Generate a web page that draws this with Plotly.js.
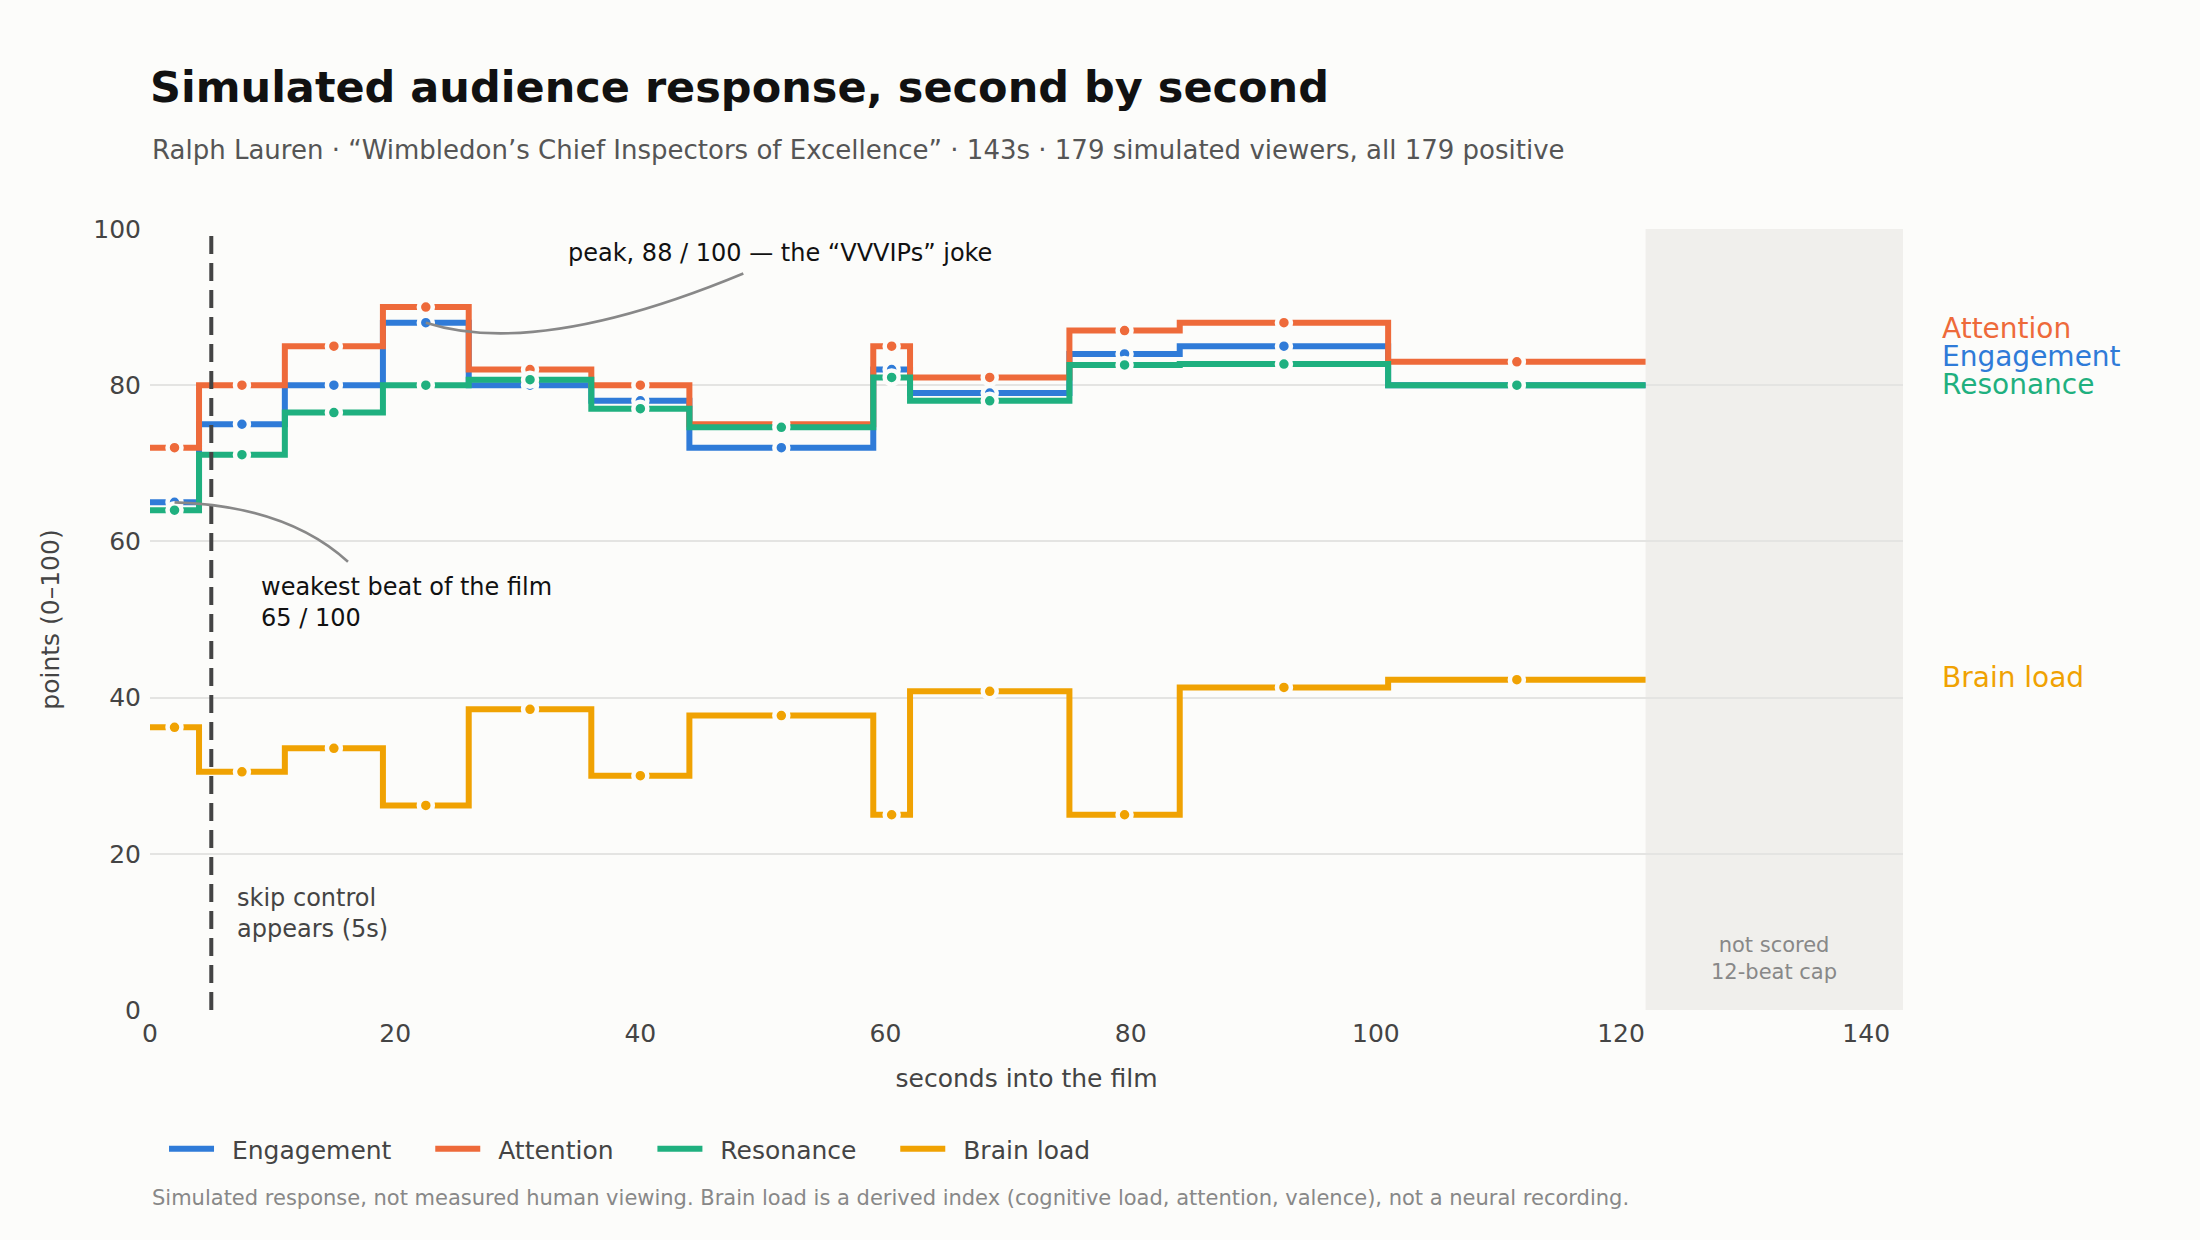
<!DOCTYPE html>
<html>
<head>
<meta charset="utf-8">
<script src="https://cdn.plot.ly/plotly-3.0.1.min.js"></script>
<style>
  html, body { margin: 0; padding: 0; background: #fcfcfa; }
  #graph { width: 2200px; height: 1240px; }
</style>
</head>
<body>
<div id="graph"></div>
<script>
// beat boundaries (seconds) - each beat runs from start[i] to start[i+1]
const beatStart = [0, 4, 11, 19, 26, 36, 44, 59, 62, 75, 84, 101];
const scoredEnd = 122;
const filmLength = 143;
const skipAt = 5;

// per-beat scores
const engagement = [65, 75, 80, 88, 80, 78, 72, 82, 79, 84, 85, 80];
const attention  = [72, 80, 85, 90, 82, 80, 75, 85, 81, 87, 88, 83];
const resonance  = [64, 71.1, 76.5, 80, 80.7, 77, 74.6, 81, 78, 82.6, 82.7, 80];
const brainLoad  = [36.2, 30.5, 33.5, 26.2, 38.5, 30, 37.7, 25, 40.8, 25, 41.3, 42.3];

const seriesNames  = ['Engagement', 'Attention', 'Resonance', 'Brain load'];
const seriesColors = ['#2f7bd8', '#ee6a3a', '#1fb07f', '#f0a202'];
const seriesValues = [engagement, attention, resonance, brainLoad];

const xTicks = [0, 20, 40, 60, 80, 100, 120, 140];
const yTicks = [0, 20, 40, 60, 80, 100];

const FONT = 'DejaVu Sans, sans-serif';
const BG = '#fcfcfa';

const beatEnd = beatStart.slice(1).concat([scoredEnd]);
const beatMid = beatStart.map((s, i) => (s + beatEnd[i]) / 2);

// legend entries get a bit of breathing room (plotly's gaps are tight)
const NBSP = '&nbsp;', THIN = '\u2009';
const legendName = n => NBSP + THIN + n + NBSP.repeat(3) + THIN + THIN;

const traces = [];
seriesValues.forEach((vals, i) => {
    // step line
    traces.push({
        x: beatStart.concat([scoredEnd]),
        y: vals.concat([vals[vals.length - 1]]),
        type: 'scatter',
        mode: 'lines',
        line: {shape: 'hv', color: seriesColors[i], width: 6},
        name: legendName(seriesNames[i]),
        legendgroup: seriesNames[i],
        hoverinfo: 'skip'
    });
    // one dot per beat, in the middle of it
    traces.push({
        x: beatMid,
        y: vals,
        type: 'scatter',
        mode: 'markers',
        marker: {size: 14, color: seriesColors[i], line: {color: BG, width: 4.5}},
        showlegend: false,
        legendgroup: seriesNames[i],
        hoverinfo: 'skip'
    });
});

// curved call-out connectors (quadratic, in data coords)
function curve(p0, c, p1) {
    return `M ${p0[0]},${p0[1]} Q ${c[0]},${c[1]} ${p1[0]},${p1[1]}`;
}
const peakIdx = engagement.indexOf(Math.max(...engagement));
const lowIdx = engagement.indexOf(Math.min(...engagement));

// right-hand series labels, nudged apart so they don't collide
const endLabelY = [83.7, 87.3, 80.1, 42.6];

const annotations = [
    {
        xref: 'paper', yref: 'paper', x: 0, y: 1.101, xanchor: 'left', yanchor: 'middle',
        text: 'Ralph Lauren · “Wimbledon’s Chief Inspectors of Excellence” · 143s · 179 simulated viewers, all 179 positive',
        showarrow: false, font: {family: FONT, size: 26, color: '#555'}
    },
    {
        xref: 'x', yref: 'y', x: 33.9, y: 96.9, xanchor: 'left', yanchor: 'middle',
        text: 'peak, ' + engagement[peakIdx] + ' / 100 — the “VVVIPs” joke',
        showarrow: false, font: {family: FONT, size: 24, color: '#111'}
    },
    {
        xref: 'x', yref: 'y', x: 8.9, y: 52.2, xanchor: 'left', yanchor: 'middle', align: 'left',
        text: 'weakest beat of the film<br>' + engagement[lowIdx] + ' / 100',
        showarrow: false, font: {family: FONT, size: 24, color: '#111'}
    },
    {
        xref: 'x', yref: 'y', x: 6.9, y: 12.3, xanchor: 'left', yanchor: 'middle', align: 'left',
        text: 'skip control<br>appears (' + skipAt + 's)',
        showarrow: false, font: {family: FONT, size: 24, color: '#444'}
    },
    {
        xref: 'x', yref: 'y', x: (scoredEnd + filmLength) / 2, y: 6.6, xanchor: 'center', yanchor: 'middle', align: 'center',
        text: 'not scored<br>12-beat cap',
        showarrow: false, font: {family: FONT, size: 21, color: '#888'}
    },
    {
        xref: 'paper', yref: 'paper', x: 0, y: -0.241, xanchor: 'left', yanchor: 'middle',
        text: 'Simulated response, not measured human viewing. Brain load is a derived index (cognitive load, attention, valence), not a neural recording.',
        showarrow: false, font: {family: FONT, size: 21, color: '#888'}
    }
];
seriesNames.forEach((n, i) => {
    annotations.push({
        xref: 'paper', yref: 'y', x: 1.021, y: endLabelY[i], xanchor: 'left', yanchor: 'middle',
        text: n, showarrow: false, font: {family: FONT, size: 28, color: seriesColors[i]}
    });
});

const shapes = [
    {
        type: 'rect', layer: 'below', xref: 'x', yref: 'y',
        x0: scoredEnd, x1: filmLength, y0: 0, y1: 100,
        fillcolor: '#f0efec', line: {width: 0}
    },
    {
        type: 'line', xref: 'x', yref: 'y', x0: skipAt, x1: skipAt, y0: 0, y1: 100,
        line: {color: '#444', width: 4, dash: '18px,9px'}
    },
    {
        type: 'path', xref: 'x', yref: 'y',
        path: curve([beatMid[peakIdx], engagement[peakIdx]], [31.65, 83.4], [48.4, 94.3]),
        line: {color: '#888', width: 2.6}
    },
    {
        type: 'path', xref: 'x', yref: 'y',
        path: curve([beatMid[lowIdx], engagement[lowIdx]], [11.1, 64.6], [16.15, 57.4]),
        line: {color: '#888', width: 2.6}
    }
];

const layout = {
    width: 2200,
    height: 1240,
    paper_bgcolor: BG,
    plot_bgcolor: BG,
    margin: {l: 150, r: 297, t: 229, b: 230, pad: 0},
    font: {family: FONT, color: '#444'},
    title: {
        text: '<b>Simulated audience response, second by second</b>',
        xref: 'paper', x: 0, xanchor: 'left',
        yref: 'container', y: 0.93, yanchor: 'middle',
        font: {family: FONT, size: 43, color: '#111'}
    },
    xaxis: {
        range: [0, filmLength],
        tickvals: xTicks,
        showgrid: false,
        zeroline: false,
        showline: false,
        ticks: '',
        ticklabelstandoff: 6,
        tickfont: {family: FONT, size: 25, color: '#444'},
        title: {text: 'seconds into the film', standoff: 22, font: {family: FONT, size: 25, color: '#444'}},
        fixedrange: true
    },
    yaxis: {
        range: [0, 100],
        tickvals: yTicks,
        showgrid: true,
        gridcolor: '#e4e4e2',
        gridwidth: 2,
        zeroline: false,
        showline: false,
        ticks: '',
        ticklabelstandoff: 8,
        tickfont: {family: FONT, size: 25, color: '#444'},
        title: {text: 'points (0–100)', standoff: 26, font: {family: FONT, size: 25, color: '#444'}},
        fixedrange: true
    },
    legend: {
        orientation: 'h',
        x: 0.008, xanchor: 'left',
        y: -0.178, yanchor: 'middle',
        itemwidth: 45,
        font: {family: FONT, size: 25, color: '#444'},
        bgcolor: 'rgba(0,0,0,0)'
    },
    showlegend: true,
    hovermode: false,
    shapes: shapes,
    annotations: annotations
};

Plotly.newPlot('graph', traces, layout, {displayModeBar: false, staticPlot: true});
</script>
</body>
</html>
